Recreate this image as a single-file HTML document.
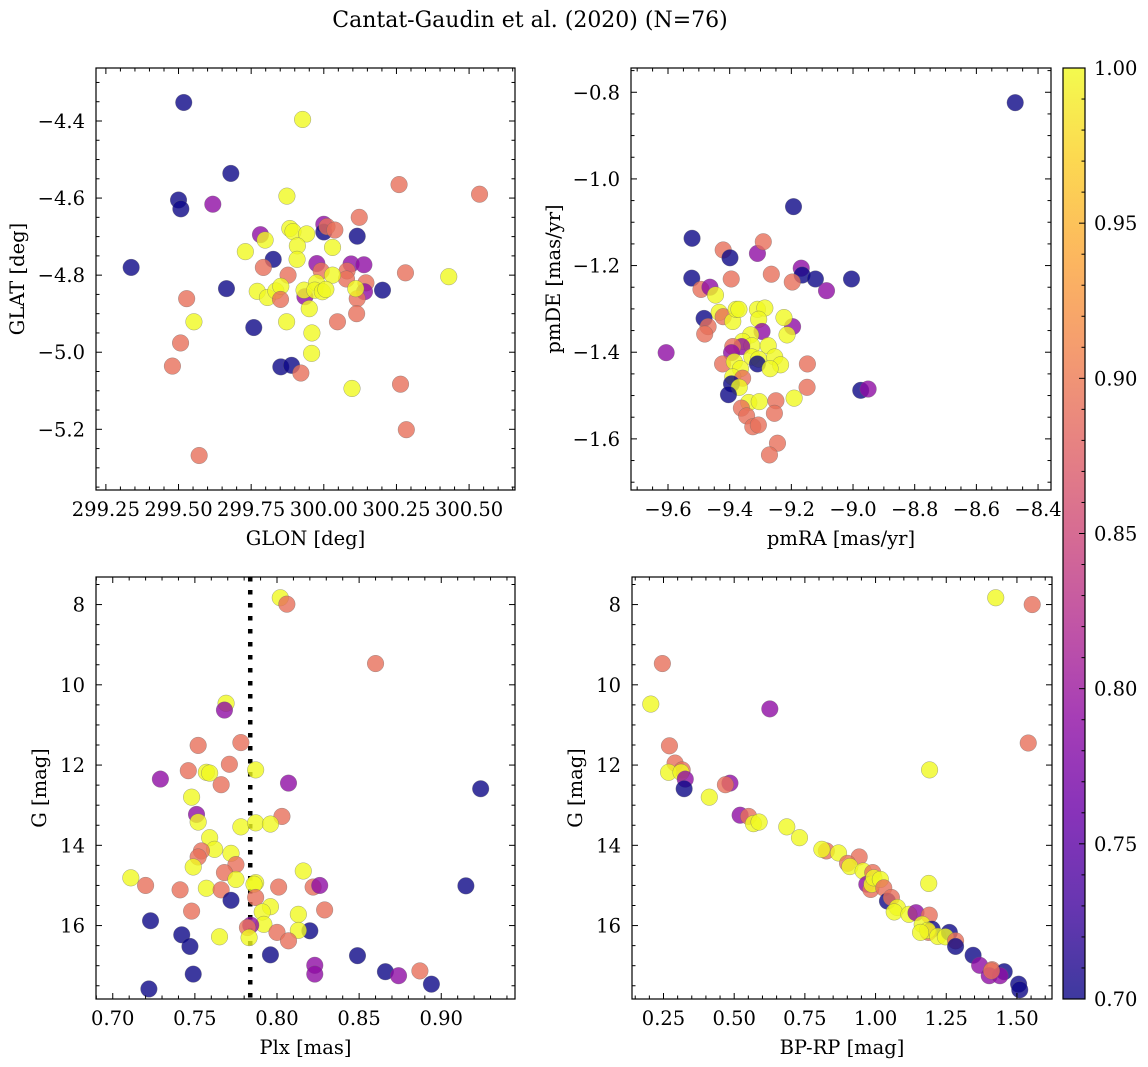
<!DOCTYPE html>
<html><head><meta charset="utf-8"><title>Cantat-Gaudin et al. (2020)</title>
<style>
html,body{margin:0;padding:0;background:#fff;}
svg{display:block;font-family:"DejaVu Serif","Liberation Serif",serif;}
</style></head>
<body>
<svg id="fig" width="1148" height="1067" viewBox="0 0 1148 1067" xmlns="http://www.w3.org/2000/svg">
<rect width="1148" height="1067" fill="#fff"/>
<text x="530" y="27" font-size="22" text-anchor="middle" fill="#000">Cantat-Gaudin et al. (2020) (N=76)</text>
<defs>
<linearGradient id="plasmaGrad" x1="0" y1="1" x2="0" y2="0">
<stop offset="0" stop-color="#0d0887"/><stop offset="0.1" stop-color="#41049d"/><stop offset="0.2" stop-color="#6a00a8"/><stop offset="0.3" stop-color="#8f0da4"/><stop offset="0.4" stop-color="#b12a90"/><stop offset="0.5" stop-color="#cc4778"/><stop offset="0.6" stop-color="#e16462"/><stop offset="0.7" stop-color="#f2844b"/><stop offset="0.8" stop-color="#fca636"/><stop offset="0.9" stop-color="#fcce25"/><stop offset="1" stop-color="#f0f921"/>
</linearGradient>
</defs>
</svg>
<script>
// ---- Panel 1: GLON / GLAT ----
const p1Lon=[299.518,299.927,299.680,299.500,299.508,299.618,300.259,300.536,299.873,300.122,300.0,300.0,300.011,300.038,300.115,299.883,299.894,299.941,299.782,299.798,299.730,299.909,300.030,299.908,299.826,299.792,299.976,299.991,300.094,300.138,300.080,300.078,300.030,299.877,300.281,300.430,300.202,300.145,300.140,300.115,300.110,300.113,300.047,299.337,299.665,299.528,299.553,299.507,299.479,299.759,299.771,299.806,299.835,299.852,299.851,299.872,299.935,299.932,299.975,299.969,299.995,300.007,299.950,299.959,299.958,299.852,299.889,299.921,300.097,300.264,300.284,299.571];
const p1Lat=[-4.352,-4.396,-4.536,-4.605,-4.628,-4.616,-4.565,-4.590,-4.595,-4.650,-4.668,-4.688,-4.674,-4.683,-4.699,-4.679,-4.687,-4.693,-4.695,-4.709,-4.739,-4.724,-4.728,-4.759,-4.759,-4.780,-4.770,-4.789,-4.771,-4.773,-4.789,-4.810,-4.800,-4.800,-4.794,-4.804,-4.839,-4.820,-4.843,-4.861,-4.835,-4.900,-4.921,-4.780,-4.835,-4.861,-4.921,-4.976,-5.036,-4.936,-4.842,-4.858,-4.841,-4.829,-4.863,-4.921,-4.856,-4.839,-4.820,-4.839,-4.843,-4.837,-4.887,-4.950,-5.003,-5.038,-5.034,-5.054,-5.094,-5.083,-5.201,-5.268];
const p1Prob=[0.70,1.00,0.70,0.70,0.70,0.79,0.89,0.89,1.00,0.89,0.79,0.70,0.89,0.89,0.70,1.00,1.00,1.00,0.79,1.00,1.00,1.00,1.00,1.00,0.70,0.89,0.79,0.89,0.79,0.79,0.89,0.89,1.00,0.89,0.89,1.00,0.70,0.89,0.79,0.89,1.00,0.89,0.89,0.70,0.70,0.89,1.00,0.89,0.89,0.70,1.00,1.00,1.00,1.00,0.89,1.00,0.79,1.00,1.00,1.00,1.00,1.00,1.00,1.00,1.00,0.70,0.70,0.89,1.00,0.89,0.89,0.89];
const p1XTicks=[299.25,299.50,299.75,300.00,300.25,300.50];
const p1YTicks=[-4.4,-4.6,-4.8,-5.0,-5.2];

// ---- Panel 2: pmRA / pmDE ----
const p2PmRA=[-8.474,-9.193,-9.522,-9.421,-9.399,-9.310,-9.291,-9.523,-9.395,-9.265,-9.168,-9.165,-9.122,-9.197,-9.005,-9.086,-9.493,-9.464,-9.446,-9.434,-9.421,-9.390,-9.379,-9.370,-9.310,-9.286,-9.306,-9.483,-9.470,-9.481,-9.196,-9.224,-9.214,-9.295,-9.332,-9.358,-9.328,-9.361,-9.390,-9.394,-9.606,-9.275,-9.328,-9.306,-9.310,-9.254,-9.235,-9.269,-9.423,-9.385,-9.365,-9.390,-9.358,-9.394,-9.369,-9.404,-9.148,-9.149,-8.975,-8.951,-9.191,-9.338,-9.304,-9.250,-9.362,-9.345,-9.325,-9.307,-9.255,-9.245,-9.271];
const p2PmDE=[-0.824,-1.064,-1.137,-1.164,-1.182,-1.172,-1.145,-1.229,-1.231,-1.220,-1.206,-1.222,-1.231,-1.238,-1.231,-1.258,-1.255,-1.250,-1.268,-1.308,-1.318,-1.329,-1.301,-1.301,-1.301,-1.298,-1.324,-1.322,-1.341,-1.358,-1.341,-1.320,-1.360,-1.352,-1.360,-1.375,-1.385,-1.387,-1.387,-1.401,-1.401,-1.385,-1.411,-1.416,-1.427,-1.411,-1.429,-1.438,-1.427,-1.422,-1.438,-1.457,-1.460,-1.473,-1.481,-1.498,-1.427,-1.481,-1.488,-1.485,-1.506,-1.516,-1.514,-1.512,-1.529,-1.547,-1.572,-1.568,-1.541,-1.610,-1.637];
const p2Prob=[0.70,0.70,0.70,0.89,0.70,0.79,0.89,0.70,0.89,0.89,0.79,0.70,0.70,0.89,0.70,0.79,0.89,0.79,1.00,1.00,0.89,1.00,1.00,1.00,1.00,1.00,1.00,0.70,0.89,0.89,0.79,1.00,1.00,0.79,1.00,1.00,1.00,0.79,0.89,0.79,0.79,1.00,1.00,1.00,0.70,1.00,1.00,1.00,0.89,1.00,1.00,1.00,0.89,0.70,1.00,0.70,0.89,0.89,0.70,0.79,1.00,1.00,1.00,0.89,0.89,0.89,0.89,0.89,0.89,0.89,0.89];
const p2XTicks=[-9.6,-9.4,-9.2,-9.0,-8.8,-8.6,-8.4];
const p2YTicks=[-0.8,-1.0,-1.2,-1.4,-1.6];

// ---- Panel 3: Plx / G ----
const p3Plx=[0.802,0.806,0.860,0.769,0.768,0.752,0.778,0.746,0.771,0.757,0.759,0.787,0.729,0.766,0.807,0.924,0.748,0.751,0.752,0.803,0.778,0.787,0.796,0.759,0.762,0.754,0.752,0.772,0.775,0.749,0.768,0.775,0.711,0.816,0.720,0.741,0.757,0.766,0.787,0.786,0.801,0.822,0.826,0.915,0.787,0.772,0.748,0.796,0.791,0.813,0.829,0.723,0.792,0.784,0.782,0.820,0.813,0.800,0.807,0.742,0.765,0.783,0.747,0.796,0.849,0.823,0.823,0.749,0.866,0.874,0.887,0.722,0.894];
const p3G=[7.83,7.99,9.47,10.46,10.63,11.51,11.44,12.14,11.98,12.18,12.20,12.12,12.35,12.49,12.45,12.59,12.80,13.23,13.42,13.28,13.54,13.44,13.47,13.81,14.10,14.14,14.29,14.20,14.48,14.54,14.68,14.85,14.81,14.64,15.00,15.11,15.07,15.11,14.93,14.97,15.04,15.04,15.00,15.01,15.30,15.37,15.64,15.53,15.66,15.72,15.61,15.88,15.97,15.99,16.05,16.13,16.12,16.17,16.38,16.23,16.28,16.30,16.52,16.73,16.75,16.99,17.21,17.21,17.15,17.25,17.13,17.58,17.46];
const p3Prob=[1.00,0.89,0.89,1.00,0.79,0.89,0.89,0.89,0.89,1.00,1.00,1.00,0.79,0.89,0.79,0.70,1.00,0.79,1.00,0.89,1.00,1.00,1.00,1.00,1.00,0.89,0.89,1.00,0.89,1.00,0.89,1.00,1.00,1.00,0.89,0.89,1.00,0.89,1.00,1.00,0.89,0.89,0.79,0.70,0.89,0.70,0.89,1.00,1.00,1.00,0.89,0.70,1.00,0.79,0.89,0.70,1.00,0.89,0.89,0.70,1.00,1.00,0.70,0.70,0.70,0.79,0.79,0.70,0.70,0.79,0.89,0.70,0.70];
const p3XTicks=[0.70,0.75,0.80,0.85,0.90];
const p3YTicks=[8,10,12,14,16];
const p3PlxRef=[0.7837];

// ---- Panel 4: BP-RP / G ----
const p4Color=[1.425,1.554,0.246,0.205,0.626,1.540,0.271,0.291,0.316,0.268,0.312,0.327,0.323,1.191,0.485,0.469,0.412,0.521,0.551,0.568,0.588,0.686,0.731,0.826,0.810,0.869,0.942,0.901,0.909,0.956,0.990,0.969,0.983,0.987,0.994,1.017,1.029,1.188,1.042,1.056,1.077,1.066,1.118,1.143,1.190,1.165,1.200,1.187,1.184,1.220,1.261,1.247,1.283,1.283,1.345,1.368,1.412,1.455,1.402,1.440,1.506,1.510,1.159,1.410];
const p4G=[7.83,8.00,9.47,10.48,10.60,11.45,11.52,11.95,12.12,12.18,12.18,12.35,12.59,12.12,12.45,12.49,12.80,13.25,13.28,13.46,13.42,13.54,13.81,14.14,14.10,14.19,14.29,14.45,14.53,14.64,14.68,14.97,15.10,14.97,14.81,14.85,15.06,14.95,15.39,15.30,15.55,15.66,15.72,15.68,15.74,15.97,16.09,16.17,16.12,16.27,16.17,16.28,16.38,16.52,16.74,16.99,17.10,17.15,17.25,17.25,17.46,17.60,16.17,17.13];
const p4Prob=[1.00,0.89,0.89,1.00,0.79,0.89,0.89,0.89,0.89,1.00,1.00,0.79,0.70,1.00,0.79,0.89,1.00,0.79,0.89,1.00,1.00,1.00,1.00,0.89,1.00,1.00,0.89,0.89,1.00,1.00,0.89,0.79,0.89,1.00,1.00,1.00,0.89,1.00,0.70,0.89,1.00,1.00,1.00,0.79,0.89,1.00,0.70,0.89,1.00,1.00,0.70,1.00,0.89,0.70,0.70,0.79,0.89,0.70,0.79,0.79,0.70,0.70,1.00,0.89];
const p4XTicks=[0.25,0.50,0.75,1.00,1.25,1.50];
const p4YTicks=[8,10,12,14,16];

// ---- Colorbar ----
const cbTicks=[0.70,0.75,0.80,0.85,0.90,0.95,1.00];
const cbRange=[0.70,1.00];

const FS=19.5;
const NS="http://www.w3.org/2000/svg";
const svg=document.getElementById('fig');
function mk(tag,attrs,parent){const e=document.createElementNS(NS,tag);for(const k in attrs)e.setAttribute(k,attrs[k]);(parent||svg).appendChild(e);return e;}
const stops=[[13,8,135],[65,4,157],[106,0,168],[143,13,164],[177,42,144],[204,71,120],[225,100,98],[242,132,75],[252,166,54],[252,206,37],[240,249,33]];
function plasma(t){t=Math.max(0,Math.min(1,t));const f=t*10,i=Math.min(9,Math.floor(f)),r=f-i;const a=stops[i],b=stops[i+1];return 'rgb('+a.map((v,k)=>Math.round(v+(b[k]-v)*r)).join(',')+')';}
function fmt(v,d){return (v<0?'\u2212':'')+Math.abs(v).toFixed(d);}

function panel(o){
  const g=mk('g',{});
  
  
  const xs=v=>o.L+(v-o.xmin)/(o.xmax-o.xmin)*(o.R-o.L);
  const ys=v=>o.T+(v-o.ytop)/(o.ybot-o.ytop)*(o.B-o.T);
  const cid='clip_'+o.name;
  const cp=mk('clipPath',{id:cid},g);mk('rect',{x:o.L,y:o.T,width:o.R-o.L,height:o.B-o.T},cp);
  const pg=mk('g',{'clip-path':'url(#'+cid+')'},g);
  if(o.vline){o.vline.forEach(v=>{const l=mk('line',{x1:xs(v),x2:xs(v),y1:o.T,y2:o.B,stroke:'#000','stroke-width':4.5,'stroke-dasharray':'4.5 8.5'},pg);
    
    });}
  for(let i=0;i<o.xd.length;i++){
    const c=mk('circle',{cx:xs(o.xd[i]),cy:ys(o.yd[i]),r:8.3,fill:plasma((o.pd[i]-cbRange[0])/(cbRange[1]-cbRange[0])),'fill-opacity':0.8,stroke:'#666','stroke-width':0.5,'stroke-opacity':0.6},pg);
    
    
  }
  const fr=mk('rect',{x:o.L,y:o.T,width:o.R-o.L,height:o.B-o.T,fill:'none',stroke:'#000','stroke-width':1.2},g);
  
  
  const tk=mk('g',{stroke:'#000','stroke-width':1},g);
  const lo=Math.min(o.xmin,o.xmax),hi=Math.max(o.xmin,o.xmax);
  for(let k=Math.ceil(lo/o.xminor-1e-6);k*o.xminor<=hi+1e-9;k++){const v=k*o.xminor,x=xs(v);
    const major=o.xt.some(t=>Math.abs(t-v)<o.xminor*0.1);const len=major?6:3.5;
    mk('line',{x1:x,x2:x,y1:o.B,y2:o.B-len},tk);mk('line',{x1:x,x2:x,y1:o.T,y2:o.T+len},tk);}
  const ylo=Math.min(o.ytop,o.ybot),yhi=Math.max(o.ytop,o.ybot);
  for(let k=Math.ceil(ylo/o.yminor-1e-6);k*o.yminor<=yhi+1e-9;k++){const v=k*o.yminor,y=ys(v);
    const major=o.yt.some(t=>Math.abs(t-v)<o.yminor*0.1);const len=major?6:3.5;
    mk('line',{x1:o.L,x2:o.L+len,y1:y,y2:y},tk);mk('line',{x1:o.R,x2:o.R-len,y1:y,y2:y},tk);}
  o.xt.forEach(v=>{const t=mk('text',{x:xs(v),y:o.B+26,'font-size':FS,'text-anchor':'middle'},g);t.textContent=fmt(v,o.xd_dec);
    
    });
  o.yt.forEach(v=>{const t=mk('text',{x:o.L-11,y:ys(v)+7,'font-size':FS,'text-anchor':'end'},g);t.textContent=fmt(v,o.yd_dec);
    
    });
  const xl=mk('text',{x:(o.L+o.R)/2,y:o.B+55,'font-size':FS,'text-anchor':'middle'},g);xl.textContent=o.xlabel;
  
  
  const yx=o.ylabX,yy=(o.T+o.B)/2;
  const yl=mk('text',{x:yx,y:yy,'font-size':FS,'text-anchor':'middle',transform:'rotate(-90 '+yx+' '+yy+')'},g);yl.textContent=o.ylabel;
  
  
}

panel({name:'panel-glon-glat',L:96,R:515,T:68,B:490,xmin:299.216,xmax:300.658,ytop:-4.2625,ybot:-5.3575,xd:p1Lon,yd:p1Lat,pd:p1Prob,xt:p1XTicks,yt:p1YTicks,xminor:0.05,yminor:0.05,xd_dec:2,yd_dec:1,xlabel:'GLON [deg]',ylabel:'GLAT [deg]',ylabX:24});
panel({name:'panel-proper-motion',L:631,R:1051,T:68,B:490,xmin:-9.72,xmax:-8.358,ytop:-0.744,ybot:-1.718,xd:p2PmRA,yd:p2PmDE,pd:p2Prob,xt:p2XTicks,yt:p2YTicks,xminor:0.05,yminor:0.05,xd_dec:1,yd_dec:1,xlabel:'pmRA [mas/yr]',ylabel:'pmDE [mas/yr]',ylabX:560});
panel({name:'panel-parallax-mag',L:96,R:515,T:577,B:999,xmin:0.6898,xmax:0.9449,ytop:7.313,ybot:17.83,xd:p3Plx,yd:p3G,pd:p3Prob,xt:p3XTicks,yt:p3YTicks,xminor:0.01,yminor:0.5,xd_dec:2,yd_dec:0,xlabel:'Plx [mas]',ylabel:'G [mag]',ylabX:46,vline:p3PlxRef});
panel({name:'panel-cmd',L:632,R:1052,T:577,B:999,xmin:0.1386,xmax:1.624,ytop:7.313,ybot:17.83,xd:p4Color,yd:p4G,pd:p4Prob,xt:p4XTicks,yt:p4YTicks,xminor:0.05,yminor:0.5,xd_dec:2,yd_dec:0,xlabel:'BP-RP [mag]',ylabel:'G [mag]',ylabX:582});

(function(){
  const L=1063,R=1085,T=68,B=999;
  const g=mk('g',{});
  
  
  mk('rect',{x:L,y:T,width:R-L,height:B-T,fill:'url(#plasmaGrad)','fill-opacity':0.8},g);
  mk('rect',{x:L,y:T,width:R-L,height:B-T,fill:'none',stroke:'#000','stroke-width':1.2},g);
  const ys=v=>B-(v-cbRange[0])/(cbRange[1]-cbRange[0])*(B-T);
  for(let k=70;k<=100;k++){const v=k/100,y=ys(v);const major=(k%5===0);
    mk('line',{x1:R,x2:R-(major?6:3.5),y1:y,y2:y,stroke:'#000','stroke-width':1},g);}
  cbTicks.forEach(v=>{const t=mk('text',{x:R+9,y:ys(v)+7,'font-size':FS},g);t.textContent=v.toFixed(2);
    
    });
})();
</script>
</body></html>
